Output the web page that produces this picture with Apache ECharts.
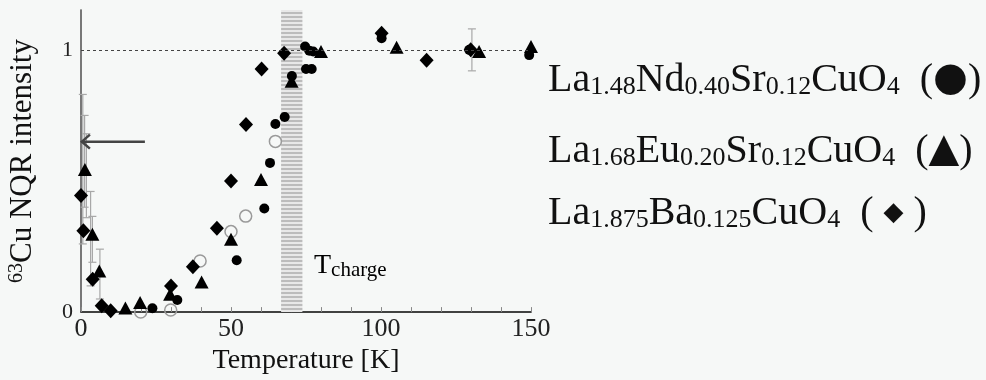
<!DOCTYPE html>
<html><head><meta charset="utf-8">
<script src="https://cdn.jsdelivr.net/npm/echarts@6/dist/echarts.min.js"></script>
<style>html,body{margin:0;padding:0;background:#f6f8f7}#c{width:986px;height:380px}</style>
</head><body><div id="c"></div>
<script>
// ---- data ----
const xTicks = [0, 50, 100, 150];
const yTicks = [0, 1];
// La1.48Nd0.40Sr0.12CuO4 (filled circles)
const ndCircles = [[23.8,0.015],[32.1,0.046],[51.9,0.198],[61.1,0.395],[63.0,0.569],[64.8,0.717],[67.9,0.744],[70.3,0.90],[74.7,1.013],[76.1,0.997],[77.4,0.994],[75.0,0.927],[76.9,0.927],[100.2,1.044],[129.4,1.0],[149.4,0.98]];
// La1.68Eu0.20Sr0.12CuO4 (triangles)
const euTriangles = [[1.3,0.544],[3.8,0.297],[6.1,0.157],[14.8,0.016],[19.7,0.037],[29.7,0.068],[40.2,0.115],[50.0,0.278],[60.0,0.506],[70.2,0.88],[80.0,0.994],[105.2,1.01],[132.7,0.994],[150.0,1.013]];
// La1.875Ba0.125CuO4 (diamonds)
const baDiamonds = [[0,0.445],[0.8,0.31],[3.9,0.125],[6.9,0.024],[9.9,0.005],[30.0,0.10],[37.3,0.173],[45.3,0.32],[50.0,0.50],[55.0,0.715],[60.2,0.927],[67.7,0.987],[100.2,1.063],[115.2,0.96],[129.9,1.0]];
// open circles
const openCircles = [[19.9,0.0],[29.9,0.008],[39.7,0.195],[50.0,0.307],[54.9,0.366],[64.8,0.651]];
// error bars [x, low, high]
const errorBars = [[0.6,0.26,0.83],[1.2,0.40,0.75],[1.8,0.36,0.68],[3.2,0.10,0.46],[3.8,0.19,0.365],[6.3,0.05,0.24],[130.3,0.92,1.08]];
// arrow [fromX, y, toX]
const arrow = [[21.3,0.65,0.3]];
const tChargeBand = [66.7, 73.8];
const refLevel = 1;

const SERIF = 'Liberation Serif';
const pc = document.createElement('canvas'); pc.width = 4; pc.height = 4;
const g = pc.getContext('2d'); g.fillStyle = '#e8e8e8'; g.fillRect(0,0,4,4); g.fillStyle = '#bcbcbc'; g.fillRect(0,0,4,2);

const chart = echarts.init(document.getElementById('c'), null, {renderer:'canvas'});
const legRich = {
  m:{fontSize:40, lineHeight:40, fontFamily:SERIF, color:'#111'},
  s:{fontSize:26, lineHeight:18, verticalAlign:'bottom', fontFamily:SERIF, color:'#111'},
  y:{fontSize:40, lineHeight:40, fontFamily:'DejaVu Sans', color:'#111'},
  yd:{fontSize:26, lineHeight:40, fontFamily:'DejaVu Sans', color:'#111'}
};
function legText(top, text){
  return {type:'text', left:548, top:top, style:{text:text, rich:legRich, fill:'#111'}};
}
chart.setOption({
  backgroundColor:'#f6f8f7',
  animation:false,
  grid:{left:81, right:455, top:10, bottom:67},
  xAxis:[{
    type:'value', min:0, max:150, interval:10, position:'bottom',
    axisLine:{lineStyle:{color:'#888', width:1.5}},
    axisTick:{inside:true, length:5, lineStyle:{color:'#888'}},
    splitLine:{show:false},
    axisLabel:{formatter:v => xTicks.includes(v) ? String(v) : '', fontSize:26, color:'#222', fontFamily:SERIF, margin:4},
    name:'Temperature [K]', nameLocation:'middle', nameGap:30,
    nameTextStyle:{fontSize:28, color:'#111', fontFamily:SERIF}
  },{
    type:'value', min:0, max:150, position:'top',
    axisLine:{lineStyle:{color:'#222', width:1.5}}, axisTick:{show:false}, axisLabel:{show:false}, splitLine:{show:false}
  }],
  yAxis:[{
    type:'value', min:0, max:1.152, interval:1,
    axisLine:{show:true, lineStyle:{color:'#999', width:1.5}}, axisTick:{show:false}, splitLine:{show:false},
    axisLabel:{formatter:v => yTicks.includes(v) ? String(v) : '', fontSize:22, color:'#222', fontFamily:SERIF, margin:8},
    name:'{sup|63}{m|Cu NQR intensity}', nameLocation:'middle', nameGap:42,
    nameTextStyle:{rich:{sup:{fontSize:20, lineHeight:18, verticalAlign:'top', fontFamily:SERIF, color:'#111'}, m:{fontSize:31, lineHeight:32, fontFamily:SERIF, color:'#111'}}}
  },{
    type:'value', min:0, max:1.152, position:'right',
    axisLine:{show:true, lineStyle:{color:'#666', width:1.5}}, axisTick:{show:false}, axisLabel:{show:false}, splitLine:{show:false}
  }],
  graphic:[
    legText(60, '{m|La}{s|1.48}{m|Nd}{s|0.40}{m|Sr}{s|0.12}{m|CuO}{s|4}{m|  (}{y|●}{m|)}'),
    legText(131, '{m|La}{s|1.68}{m|Eu}{s|0.20}{m|Sr}{s|0.12}{m|CuO}{s|4}{m|  (}{y|▲}{m|)}'),
    legText(193, '{m|La}{s|1.875}{m|Ba}{s|0.125}{m|CuO}{s|4}{m|  ( }{yd|◆}{m| )}'),
    {type:'text', left:314, top:252, style:{text:'{t|T}{c|charge}', rich:{t:{fontSize:28, lineHeight:30, fontFamily:SERIF, color:'#111'}, c:{fontSize:21, lineHeight:19, verticalAlign:'bottom', fontFamily:SERIF, color:'#111'}}}}
  ],
  series:[
    {type:'scatter', data:[], z:1, silent:true,
      markArea:{silent:true, itemStyle:{color:{image:pc, repeat:'repeat'}}, data:[[{xAxis:tChargeBand[0]},{xAxis:tChargeBand[1]}]]},
      markLine:{silent:true, symbol:['none','none'], label:{show:false}, lineStyle:{type:[3,3], color:'#444', width:1}, data:[{yAxis:refLevel}]}
    },
    {type:'custom', z:2, silent:true, data:errorBars, encode:{x:0, y:[1,2]},
      renderItem:(params, api) => {
        const x = api.value(0), lo = api.value(1), hi = api.value(2);
        const a = api.coord([x, hi]), b = api.coord([x, lo]); const w = 4;
        const st = {stroke:'#a8a8a8', lineWidth:1.2};
        return {type:'group', children:[
          {type:'line', shape:{x1:a[0], y1:a[1], x2:b[0], y2:b[1]}, style:st},
          {type:'line', shape:{x1:a[0]-w, y1:a[1], x2:a[0]+w, y2:a[1]}, style:st},
          {type:'line', shape:{x1:b[0]-w, y1:b[1], x2:b[0]+w, y2:b[1]}, style:st}
        ]};
      }
    },
    {type:'custom', z:2, silent:true, data:arrow, encode:{x:[0,2], y:1},
      renderItem:(params, api) => {
        const a = api.coord([api.value(0), api.value(1)]), b = api.coord([api.value(2), api.value(1)]);
        const st = {stroke:'#444', lineWidth:2.5, fill:null};
        return {type:'group', children:[
          {type:'line', shape:{x1:a[0], y1:a[1], x2:b[0], y2:b[1]}, style:st},
          {type:'polyline', shape:{points:[[b[0]+8, b[1]-7],[b[0], b[1]],[b[0]+8, b[1]+7]]}, style:st}
        ]};
      }
    },
    {name:'open', type:'scatter', z:3, clip:false, data:openCircles, symbol:'circle', symbolSize:12,
      itemStyle:{color:'rgba(0,0,0,0)', borderColor:'#9a9a9a', borderWidth:1.5, opacity:1}},
    {name:'Ba', type:'scatter', z:4, clip:false, data:baDiamonds, symbol:'diamond', symbolSize:[14,15], itemStyle:{color:'#000', opacity:1}},
    {name:'Eu', type:'scatter', z:4, clip:false, data:euTriangles, symbol:'triangle', symbolSize:[14,13], itemStyle:{color:'#000', opacity:1}},
    {name:'Nd', type:'scatter', z:4, clip:false, data:ndCircles, symbol:'circle', symbolSize:10, itemStyle:{color:'#000', opacity:1}}
  ]
});
</script></body></html>
